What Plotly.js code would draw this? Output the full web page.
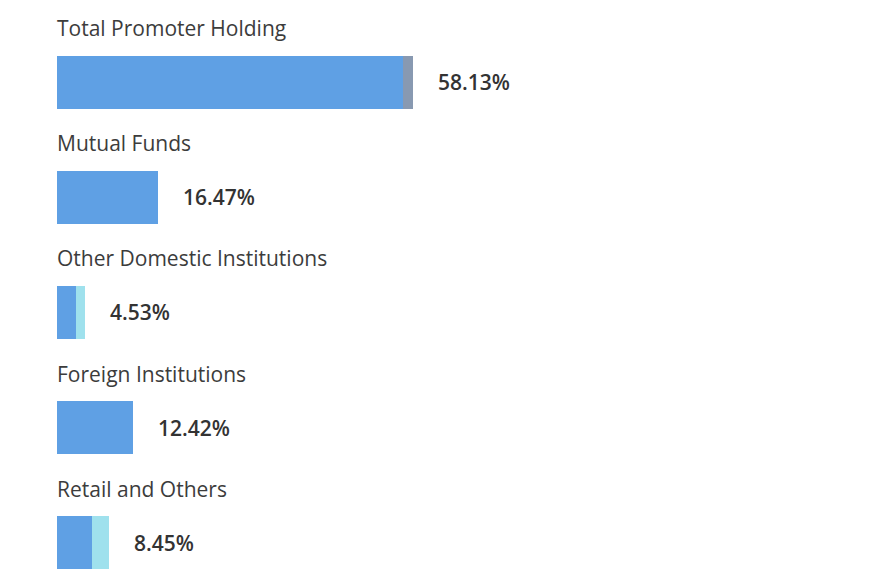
<!DOCTYPE html>
<html>
<head>
<meta charset="utf-8">
<script src="https://cdn.plot.ly/plotly-3.0.1.min.js"></script>
<style>
  html, body { margin: 0; padding: 0; background: #ffffff; }
  #chart { width: 870px; height: 580px; }
</style>
</head>
<body>
<div id="chart"></div>
<script>
// Shareholding categories
var categories = ['Total Promoter Holding', 'Mutual Funds', 'Other Domestic Institutions', 'Foreign Institutions', 'Retail and Others'];

// Holding totals (%), as labelled
var totals = [58.13, 16.47, 4.53, 12.42, 8.45];

// Main segment (%)
var mainPart = [56.50, 16.47, 3.10, 12.42, 5.71];

// Secondary segment (%): pledged / other
var greyPart = [1.63, 0, 0, 0, 0];
var cyanPart = [0, 0, 1.43, 0, 2.74];

// Styling
var FONT = 'Open Sans, Arial, sans-serif';

function drawChart() {

    var data = [
        {type: 'bar', orientation: 'h', y: categories, x: mainPart, width: 0.46,
         marker: {color: '#5fa0e4'}, hoverinfo: 'none'},
        {type: 'bar', orientation: 'h', y: categories, x: greyPart, width: 0.46,
         marker: {color: '#8899b1'}, hoverinfo: 'none'},
        {type: 'bar', orientation: 'h', y: categories, x: cyanPart, width: 0.46,
         marker: {color: '#9fe1ed'}, hoverinfo: 'none'}
    ];

    var annotations = [];
    for (var i = 0; i < categories.length; i++) {
        // Category label above the bar
        annotations.push({
            xref: 'paper', x: 0, yref: 'y', y: categories[i],
            xanchor: 'left', yanchor: 'middle', yshift: 54, xshift: -2,
            text: categories[i], showarrow: false,
            font: {family: FONT, size: 21, color: '#3c3c3c', weight: 500}
        });
        // Value label right of the bar
        annotations.push({
            xref: 'x', x: totals[i], yref: 'y', y: categories[i],
            xanchor: 'left', yanchor: 'middle', xshift: 23,
            text: totals[i].toFixed(2) + '%', showarrow: false,
            font: {family: FONT, size: 21, color: '#333333', weight: 600}
        });
    }

    var layout = {
        width: 870, height: 580,
        margin: {l: 57, r: 0, t: 0, b: 0, pad: 0},
        paper_bgcolor: '#ffffff', plot_bgcolor: '#ffffff',
        barmode: 'stack',
        showlegend: false,
        xaxis: {range: [0, 132.7], visible: false, fixedrange: true},
        yaxis: {type: 'category', range: [4.326, -0.717], visible: false, fixedrange: true},
        annotations: annotations
    };

    Plotly.newPlot('chart', data, layout, {displayModeBar: false, staticPlot: true});
}

drawChart();
</script>
</body>
</html>
